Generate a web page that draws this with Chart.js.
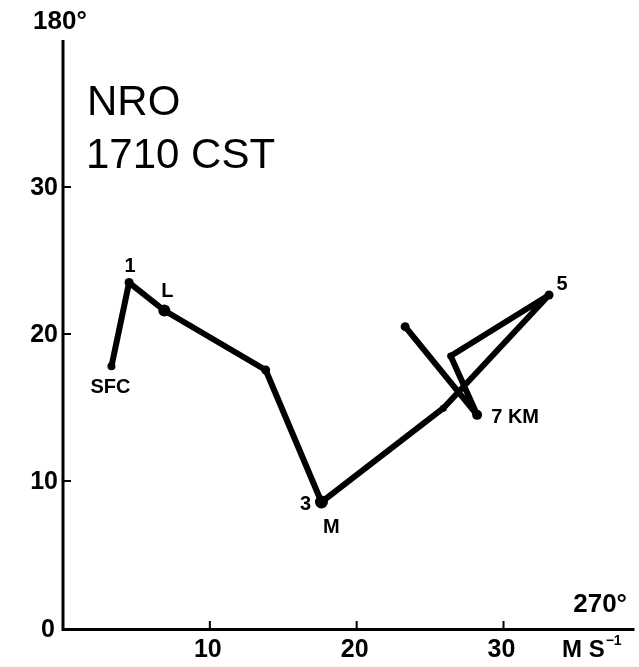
<!DOCTYPE html>
<html>
<head>
<meta charset="utf-8">
<title>NRO 1710 CST hodograph</title>
<script src="https://cdn.jsdelivr.net/npm/chart.js@4/dist/chart.umd.min.js"></script>
<style>
  html, body { margin: 0; padding: 0; background: #fff; }
  canvas { display: block; }
</style>
</head>
<body>
<canvas id="hodo" width="639" height="667"></canvas>
<script>
// Wind components (m/s) along the hodograph, surface upward
const uWind = [3.3, 4.5, 6.9, 13.8, 17.6, 25.9, 33.1, 26.4, 28.2, 23.3];
const vWind = [17.8, 23.5, 21.6, 17.55, 8.57, 14.95, 22.65, 18.5, 14.5, 20.5];
// Height labels attached to the hodograph points
const pointLabels = ['SFC', '1', 'L', '', '3', '', '5', '', '7 KM', ''];
// Axis tick values
const xTicks = [10, 20, 30];
const yTicks = [0, 10, 20, 30];

// Label placement relative to each point (px), kept apart from the data
const labelOffsets = {
  'SFC': [-1, 21], '1': [1, -16], 'L': [3, -19], '3': [-16, 2], '5': [13, -11], '7 KM': [38, 3]
};

const points = uWind.map((u, i) => ({ x: u, y: vWind[i] }));

const hodoAxes = {
  id: 'hodoAxes',
  afterDatasetsDraw(chart) {
    const { ctx, scales: { x, y } } = chart;
    const x0 = x.getPixelForValue(0), y0 = y.getPixelForValue(0);
    ctx.save();
    ctx.strokeStyle = '#000';
    ctx.fillStyle = '#000';
    ctx.lineCap = 'butt';
    // axes
    ctx.lineWidth = 3;
    ctx.beginPath();
    ctx.moveTo(x0, y.getPixelForValue(y.max));
    ctx.lineTo(x0, y0 + 1.5);
    ctx.lineTo(x.getPixelForValue(x.max), y0 + 1.5);
    ctx.stroke();
    // inward ticks
    ctx.lineWidth = 2;
    xTicks.forEach(v => {
      const px = x.getPixelForValue(v);
      ctx.beginPath(); ctx.moveTo(px, y0); ctx.lineTo(px, y0 - 7); ctx.stroke();
    });
    yTicks.filter(v => v > 0).forEach(v => {
      const py = y.getPixelForValue(v);
      ctx.beginPath(); ctx.moveTo(x0, py); ctx.lineTo(x0 + 8, py); ctx.stroke();
    });
    // tick labels
    ctx.font = 'bold 25px "Liberation Sans", Arial, sans-serif';
    ctx.textBaseline = 'middle';
    ctx.textAlign = 'center';
    xTicks.forEach(v => ctx.fillText(String(v), x.getPixelForValue(v) - 2, y0 + 22));
    ctx.textAlign = 'right';
    yTicks.forEach(v => {
      const py = y.getPixelForValue(v);
      ctx.fillText(String(v), x0 - (v === 0 ? 8 : 5), py + (v === 0 ? 2 : 1));
    });
    // direction and unit labels
    ctx.font = 'bold 26px "Liberation Sans", Arial, sans-serif';
    ctx.textAlign = 'center';
    ctx.fillText('180°', x0 - 3, 22);
    ctx.textAlign = 'right';
    ctx.fillText('270°', 627, y0 - 23);
    ctx.textAlign = 'left';
    ctx.font = 'bold 24px "Liberation Sans", Arial, sans-serif';
    ctx.fillText('M S', 562, y0 + 22);
    const unitW = ctx.measureText('M S').width;
    ctx.font = 'bold 14px "Liberation Sans", Arial, sans-serif';
    ctx.fillText('−1', 562 + unitW + 1, y0 + 13);
    // station title
    ctx.font = '42px "Liberation Sans", Arial, sans-serif';
    ctx.textBaseline = 'alphabetic';
    ctx.fillText('NRO', 87, 115);
    ctx.fillText('1710 CST', 86, 168);
    // point labels
    ctx.font = 'bold 20px "Liberation Sans", Arial, sans-serif';
    ctx.textBaseline = 'middle';
    ctx.textAlign = 'center';
    const meta = chart.getDatasetMeta(0);
    pointLabels.forEach((t, i) => {
      if (!t) return;
      const el = meta.data[i];
      const off = labelOffsets[t] || [0, 0];
      ctx.fillText(t, el.x + off[0], el.y + off[1]);
      if (t === '3') {
        ctx.fillText('M', el.x + 10, el.y + 25);
      }
    });
    ctx.restore();
  }
};

new Chart(document.getElementById('hodo'), {
  type: 'scatter',
  data: {
    datasets: [{
      data: points,
      showLine: true,
      borderColor: '#000',
      backgroundColor: '#000',
      borderWidth: 6,
      borderJoinStyle: 'round',
      borderCapStyle: 'round',
      pointRadius: [4, 4.5, 6, 4.5, 6.5, 3.5, 4.5, 3.5, 5, 4.5],
      pointBorderWidth: 0,
      tension: 0,
      clip: false
    }]
  },
  options: {
    responsive: false,
    devicePixelRatio: 1,
    animation: false,
    layout: { padding: { left: 63, right: 0, top: 40, bottom: 39 } },
    scales: {
      x: { type: 'linear', min: 0, max: 38.92, display: false },
      y: { type: 'linear', min: 0, max: 40, display: false }
    },
    plugins: { legend: { display: false }, tooltip: { enabled: false } }
  },
  plugins: [hodoAxes]
});
</script>
</body>
</html>
